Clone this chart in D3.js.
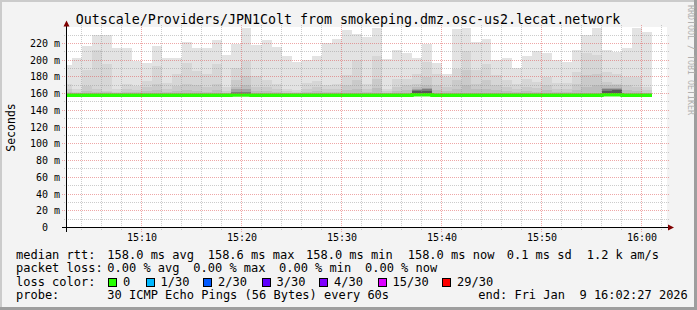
<!DOCTYPE html>
<html><head><meta charset="utf-8">
<script src="https://cdn.jsdelivr.net/npm/d3@7"></script>
<style>
html,body{margin:0;padding:0;background:#f3f3f3;}
svg{display:block;}
text{font-family:"DejaVu Sans Mono",monospace;white-space:pre;}
</style></head><body>
<svg id="c" width="697" height="310"></svg>
<script>
// ---------------- data ----------------
const day = "2026-01-09";
const graphStart = "15:02:27", graphEnd = "16:02:27";
const binStarts = ["15:02","15:03","15:04","15:05","15:06","15:07","15:08","15:09","15:10","15:11",
 "15:12","15:13","15:14","15:15","15:16","15:17","15:18","15:19","15:20","15:21",
 "15:22","15:23","15:24","15:25","15:26","15:27","15:28","15:29","15:30","15:31",
 "15:32","15:33","15:34","15:35","15:36","15:37","15:38","15:39","15:40","15:41",
 "15:42","15:43","15:44","15:45","15:46","15:47","15:48","15:49","15:50","15:51",
 "15:52","15:53","15:54","15:55","15:56","15:57","15:58","15:59","16:00"];
// smoke: sorted ping rtt levels (ms) per one-minute bin
const pingMax = [194,202,216.5,230.5,229.5,214.7,214.7,199.5,196,216.5,
 203,203,222,214,214,223.5,205.8,219,240,217.5,
 223.5,216,205.5,197.6,200,204.4,220.7,224.7,236.6,231.8,
 227.3,240,201.6,212.5,208,202,219,196,184,237,
 240,222.2,225.8,200,202,190.5,204.5,211.3,208,200.4,
 198,212,230.5,240,212,209.5,215,238,234];
const ping29 = [172,166,188,212.5,195,165,171,169,175.5,192.5,
 173,184,196.5,186.5,183,195,168,191,199.5,181,
 176.7,172,166,164.3,173,174.6,170.7,171,182.5,200,
 172,205,166,178,178,184,198,184,180,190,
 211,188,195,182,176,172,178,174,180,173,
 173,186,208,206,186,183,180,180,168];
const ping28 = [165,162.5,168.5,166,163.5,162,165,164,168,171,
 166,169,172,170,168,172,163,176,181,168,
 168,165,163,162,166,168,165,166,170,176,
 166,178,163,168,170,172,180,170,168,176,
 188,172,176,170,168,166,168,167,170,166,
 166,172,182,184,174,172,170,168,164];
const ping27 = [162,161,163,162.5,161.5,160.5,162,162,163,164,
 162,163,164,163,162,164,161,168,170,163,
 163,162,161,160.5,162,163,162,162,164,166,
 162,167,161,163,164,168,170,164,163,166,
 170,165,166,164,163,162,163,162,164,162,
 162,164,168,170,170,170,164,163,161];
const ping25 = [160,160,160,160,160,160,160,160,160,160,
 160,160,160,160,160,160,160,165,166,160,
 160,160,160,160,160,160,160,160,160,160,
 160,160,160,160,160,166,167,160,160,160,
 160,160,160,160,160,160,160,160,160,160,
 160,160,160,160,167,167,160,160,160];
const ping22 = [159,159,159,159,159,159,159,159,159,159,
 159,159,159,159,159,159,159,162,162.5,159,
 159,159,159,159,159,159,159,159,159,159,
 159,159,159,159,159,164.5,165,159,159,159,
 159,159,159,159,159,159,159,159,159,159,
 159,159,159,159,165,165.5,159,159,159];
const ping19 = [158.4,158.4,158.4,158.4,158.4,158.4,158.4,158.4,158.4,158.4,
 158.4,158.4,158.4,158.4,158.4,158.4,158.4,159.5,160,158.4,
 158.4,158.4,158.4,158.4,158.4,158.4,158.4,158.4,158.4,158.4,
 158.4,158.4,158.4,158.4,158.4,163,163,158.4,158.4,158.4,
 158.4,158.4,158.4,158.4,158.4,158.4,158.4,158.4,158.4,158.4,
 158.4,158.4,158.4,158.4,163.5,164,158.4,158.4,158.4];
const pingMin = [157.4,157.4,157.4,157.4,157.4,157.4,157.4,157.4,157.4,157.4,
 157.4,157.4,157.4,157.4,157.4,157.4,157.4,157.4,157.4,157.4,
 157.4,157.4,157.4,157.4,157.4,157.4,157.4,157.4,157.4,157.4,
 157.4,157.4,157.4,157.4,157.4,157.4,157.4,157.4,157.4,157.4,
 157.4,157.4,157.4,157.4,157.4,157.4,157.4,157.4,157.4,157.4,
 157.4,157.4,157.4,157.4,157.4,157.4,157.4,157.4,157.4];
const median = [158,158,158,158,158,158,158,158,158,158,
 158,158,158,158,158,158,158,158.2,158.2,158,
 158,158,158,158,158,158,158,158,158,158,
 158,158,158,158,158,158.6,158.6,158,158,158,
 158,158,158,158,158,158,158,158,158,158,
 158,158,158,158,158.6,158.6,158,158,158];

const yTickValues = [0,20,40,60,80,100,120,140,160,180,200,220];
const yTickLabels = ["0  ","20 m","40 m","60 m","80 m","100 m","120 m","140 m","160 m","180 m","200 m","220 m"];
const xTickLabels = ["15:10","15:20","15:30","15:40","15:50","16:00"];

const titleText = "Outscale/Providers/JPN1Colt from smokeping.dmz.osc-us2.lecat.network";
const yTitle = "Seconds";
const rttLabel = "median rtt:";
const rttStats = ["158.0 ms avg","158.6 ms max","158.0 ms min","158.0 ms now","0.1 ms sd","1.2 k am/s"];
const lossLabel = "packet loss:";
const lossStats = ["0.00 % avg","0.00 % max","0.00 % min","0.00 % now"];
const colorLabel = "loss color:";
const lossColorLabels = ["0","1/30","2/30","3/30","4/30","15/30","29/30"];
const lossColors = ["#26ff00","#00b8ff","#0059ff","#5e00ff","#7e00ff","#dd00ff","#ff0000"];
const probeLabel = "probe:";
const probeText = "30 ICMP Echo Pings (56 Bytes) every 60s";
const endText = "end: Fri Jan  9 16:02:27 2026";
const watermark = "RRDTOOL / TOBI OETIKER";

// ---------------- layout ----------------
const parseT = d3.timeParse("%Y-%m-%d %H:%M:%S");
const T = s => parseT(day + " " + (s.length === 5 ? s + ":00" : s));
const X0 = 66, X1 = 666, YB = 227.5, YT = 27.5;
const x = d3.scaleTime().domain([T(graphStart), T(graphEnd)]).range([X0, X1]);
const y = d3.scaleLinear().domain([0, 239]).range([YB, YT]);

const svg = d3.select("#c");
// background & shade
svg.append("rect").attr("width",697).attr("height",310).attr("fill","#f3f3f3");
svg.append("rect").attr("x",0).attr("y",0).attr("width",697).attr("height",2).attr("fill","#cbcbcb");
svg.append("rect").attr("x",0).attr("y",0).attr("width",2).attr("height",310).attr("fill","#cbcbcb");
svg.append("rect").attr("x",0).attr("y",307).attr("width",697).attr("height",3).attr("fill","#9e9e9e");
svg.append("rect").attr("x",694).attr("y",0).attr("width",3).attr("height",310).attr("fill","#9e9e9e");
// canvas
svg.append("rect").attr("x",X0).attr("y",27).attr("width",X1-X0+1).attr("height",201).attr("fill","#ffffff");

// smoke layers (smokeping colouring)
const smokeColor = ibot => { const v = Math.floor(190/15*(15-ibot))+50; const h = v.toString(16).padStart(2,"0"); return "#"+h+h+h; };
const layers = [[pingMax,1],[ping29,2],[ping28,3],[ping27,4],[ping25,6],[ping22,9],[ping19,12]];
const gSmoke = svg.append("g").attr("shape-rendering","crispEdges");
const bins = binStarts.map((s,i)=>{
  const t0 = T(s), t1 = new Date(+t0 + 60000);
  return {i, xa: Math.round(Math.max(x(t0), X0)), xb: Math.round(x(t1))};
});
layers.forEach(([arr, ibot])=>{
  gSmoke.append("g").selectAll("rect").data(bins).join("rect")
    .attr("x", d=>d.xa).attr("width", d=>d.xb-d.xa)
    .attr("y", d=>Math.max(28, Math.round(y(arr[d.i]))))
    .attr("height", d=>Math.max(0, Math.round(y(pingMin[d.i])) - Math.max(28, Math.round(y(arr[d.i])))))
    .attr("fill", smokeColor(ibot));
});

// median line
const medPts = bins.map(d=>[d.xa, y(median[d.i])]);
medPts.push([bins[bins.length-1].xb, y(median[median.length-1])]);
svg.append("path").attr("d", d3.line().curve(d3.curveStepAfter)(medPts))
  .attr("fill","none").attr("stroke","#26ff00").attr("stroke-width",3.4);

// grid
const gGrid = svg.append("g").attr("shape-rendering","crispEdges").attr("stroke-dasharray","1,1").attr("fill","none");
const minorCol = "rgba(143,143,143,0.46)", majorCol = "rgba(222,80,80,0.5)";
const yMinor = d3.range(10, 239, 20);
yMinor.forEach(v=>{ const yy = Math.floor(y(v))+0.5;
  gGrid.append("line").attr("x1",X0-2).attr("x2",X1+3).attr("y1",yy).attr("y2",yy).attr("stroke",minorCol); });
yTickValues.slice(1).forEach(v=>{ const yy = Math.floor(y(v))+0.5;
  gGrid.append("line").attr("x1",X0-4).attr("x2",X1+3).attr("y1",yy).attr("y2",yy).attr("stroke",majorCol); });
const majorTimes = xTickLabels.map(T);
d3.timeMinute.every(2).range(T(graphStart), T(graphEnd)).forEach(t=>{
  if (t.getMinutes() % 10 === 0) return;
  const xx = Math.floor(x(t))+0.5;
  gGrid.append("line").attr("x1",xx).attr("x2",xx).attr("y1",25).attr("y2",YB+3).attr("stroke",minorCol);
});
majorTimes.forEach(t=>{ const xx = Math.floor(x(t))+0.5;
  gGrid.append("line").attr("x1",xx).attr("x2",xx).attr("y1",25).attr("y2",YB+4).attr("stroke",majorCol); });

// axes
const gAx = svg.append("g").attr("shape-rendering","crispEdges");
gAx.append("line").attr("x1",X0-4).attr("x2",X1+4).attr("y1",YB).attr("y2",YB).attr("stroke","#000");
gAx.append("line").attr("x1",X0+0.5).attr("x2",X0+0.5).attr("y1",24).attr("y2",YB+4).attr("stroke","#000");
svg.append("path").attr("d","M63.5,26.5L66.5,20.5L69.5,26.5Z").attr("fill","#7f0000");
svg.append("path").attr("d","M668,224.5L674,227.5L668,230.5Z").attr("fill","#7f0000");

// y tick labels
svg.append("g").selectAll("text").data(yTickValues).join("text")
  .attr("x",60).attr("y",(v)=>Math.floor(y(v))+4).attr("text-anchor","end")
  .attr("font-size","10px").attr("fill","#000").text((v,i)=>yTickLabels[i]);
// x tick labels
svg.append("g").selectAll("text").data(xTickLabels).join("text")
  .attr("x",d=>Math.floor(x(T(d)))+1).attr("y",240.7).attr("text-anchor","middle")
  .attr("font-size","10px").attr("fill","#000").text(d=>d);

// title
svg.append("text").attr("x",348).attr("y",23.7).attr("text-anchor","middle")
  .attr("font-size","13.3px").attr("fill","#000").text(titleText);
// unit
svg.append("text").attr("transform","translate(15,127.5) rotate(-90)").attr("text-anchor","middle")
  .attr("font-size","11.5px").attr("fill","#000").text(yTitle);
// watermark
svg.append("text").attr("transform","translate(687.5,5) rotate(90)").attr("text-anchor","start")
  .attr("font-size","8.3px").attr("fill","#b0b0b0").text(watermark);

// legend
const L = svg.append("g").attr("font-size","12px").attr("fill","#000");
const rows = [258.5, 272, 285.5, 299];
L.append("text").attr("x",16).attr("y",rows[0]).text(rttLabel);
const rttX = [107.3,207.7,306,407.7,506.7,586.7];
rttStats.forEach((s,i)=>L.append("text").attr("x",rttX[i]).attr("y",rows[0]).text(s));
L.append("text").attr("x",16).attr("y",rows[1]).text(lossLabel);
const lossX = [107.3,193.3,279,365];
lossStats.forEach((s,i)=>L.append("text").attr("x",lossX[i]).attr("y",rows[1]).text(s));
L.append("text").attr("x",16).attr("y",rows[2]).text(colorLabel);
const boxX = [108,145.5,203,261.5,319,377.5,442];
lossColorLabels.forEach((s,i)=>{
  L.append("rect").attr("x",boxX[i]+0.5).attr("y",278.5).attr("width",8).attr("height",8)
    .attr("fill",lossColors[i]).attr("stroke","#000").attr("stroke-width",1).attr("shape-rendering","crispEdges");
  L.append("text").attr("x",boxX[i]+15).attr("y",rows[2]).text(s);
});
L.append("text").attr("x",16).attr("y",rows[3]).text(probeLabel);
L.append("text").attr("x",107.3).attr("y",rows[3]).text(probeText);
L.append("text").attr("x",478.3).attr("y",rows[3]).text(endText);
</script>
</body></html>
